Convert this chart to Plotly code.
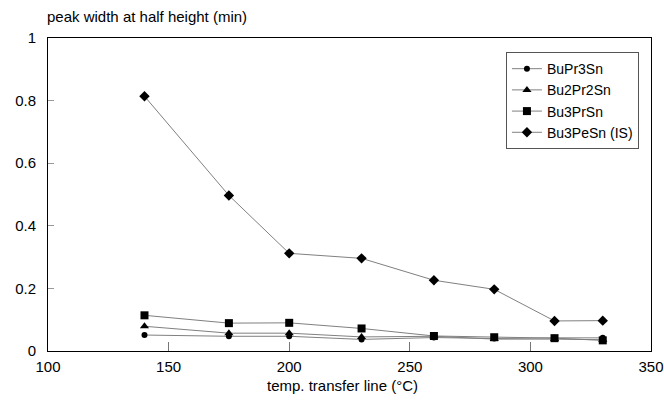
import plotly.graph_objects as go

temps = [140, 175, 200, 230, 260, 285, 310, 330]
bupr3sn = [0.051, 0.047, 0.047, 0.037, 0.043, 0.040, 0.042, 0.042]
bu2pr2sn = [0.079, 0.057, 0.057, 0.045, 0.047, 0.038, 0.038, 0.036]
bu3prsn = [0.114, 0.089, 0.090, 0.072, 0.048, 0.044, 0.041, 0.034]
bu3pesn = [0.814, 0.497, 0.312, 0.296, 0.226, 0.197, 0.096, 0.097]

names = ["BuPr3Sn", "Bu2Pr2Sn", "Bu3PrSn", "Bu3PeSn (IS)"]
series = [bupr3sn, bu2pr2sn, bu3prsn, bu3pesn]
symbols = ["circle", "triangle-up", "square", "diamond"]
sizes = [6, 8, 8, 8]

fig = go.Figure()
for n, s, sym, sz in zip(names, series, symbols, sizes):
    fig.add_trace(go.Scatter(
        x=temps, y=s, name=n, mode="lines+markers",
        line=dict(color="#808080", width=1),
        marker=dict(symbol=sym, size=sz, color="black"),
    ))

font = "Liberation Sans, Arial, sans-serif"
fig.update_layout(
    width=664, height=403,
    margin=dict(l=48, r=13, t=38, b=52, autoexpand=False),
    plot_bgcolor="white", paper_bgcolor="white",
    font=dict(family=font, size=15, color="black"),
    showlegend=True,
    legend=dict(x=0.980, y=0.955, xanchor="right", yanchor="top",
                bordercolor="#555555", borderwidth=1, bgcolor="white",
                font=dict(size=14), itemwidth=30, tracegroupgap=0),
    xaxis=dict(range=[100, 350], tickvals=[100, 150, 200, 250, 300, 350],
               showgrid=False, zeroline=False, showline=True, linecolor="black",
               linewidth=1, mirror=True, ticks="inside", ticklen=9, tickcolor="#777777",
               ticklabelstandoff=2, automargin=False),
    yaxis=dict(range=[0, 1], tickvals=[0, 0.2, 0.4, 0.6, 0.8, 1],
               ticktext=["0", "0.2", "0.4", "0.6", "0.8", "1"],
               showgrid=False, zeroline=False, showline=True, linecolor="black",
               linewidth=1, mirror=True, ticks="inside", ticklen=6, tickcolor="#999999",
               ticklabelstandoff=8, automargin=False),
    annotations=[
        dict(text="peak width at half height (min)", x=-3 / 603, y=(351 - 17) / 313,
             xref="paper", yref="paper", showarrow=False,
             xanchor="left", yanchor="middle", font=dict(size=15)),
        dict(text="temp. transfer line (°C)", x=0.489, y=(351 - 385) / 313,
             xref="paper", yref="paper", showarrow=False,
             xanchor="center", yanchor="middle", font=dict(size=15)),
    ],
)
fig.write_html("out.html",
               config={"displayModeBar": False},
               post_script="document.body.style.margin='0';document.body.style.overflow='hidden';")
